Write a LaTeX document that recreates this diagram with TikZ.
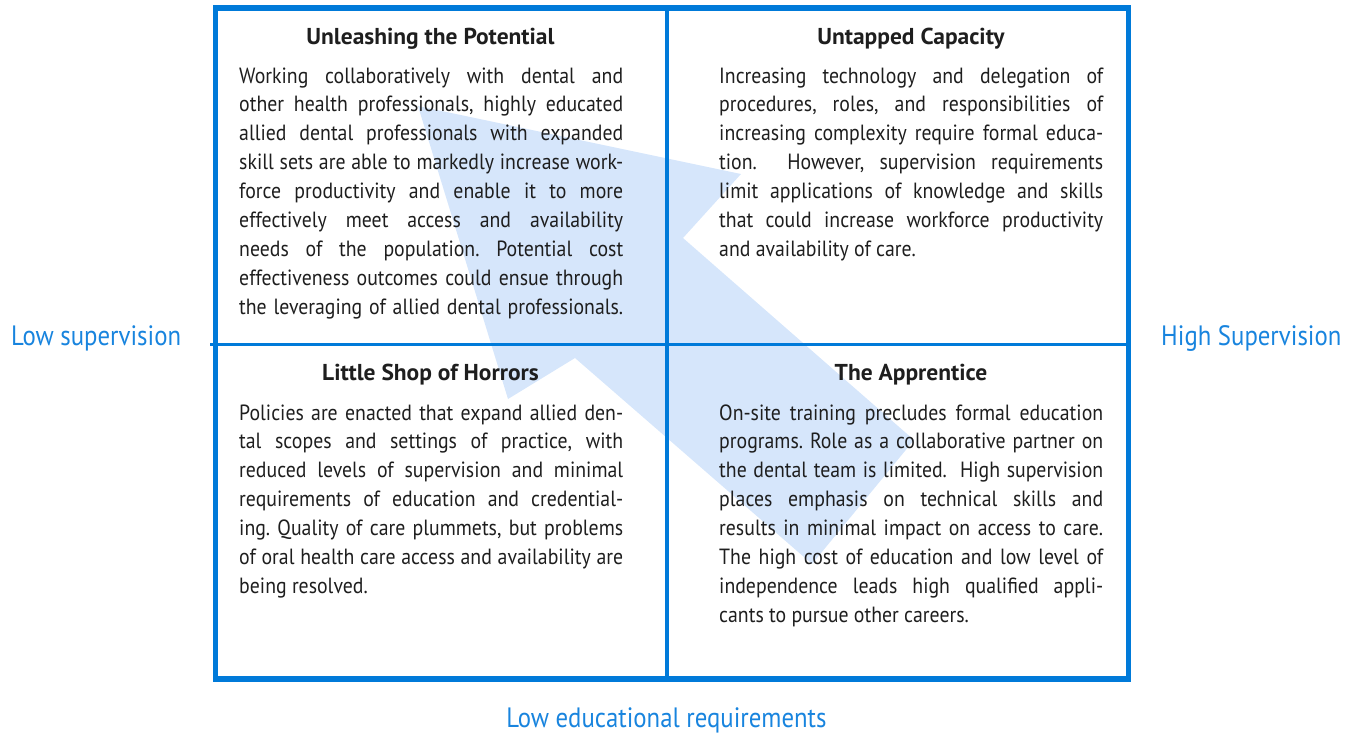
\documentclass[tikz,border=0pt]{standalone}
\usepackage{fontspec}
\setmainfont[FakeStretch=0.9]{PT Sans}
\newfontfamily\titlefont[FakeStretch=1.02]{PT Sans}
\newfontfamily\axisfont[FakeStretch=0.885]{PT Sans}

\definecolor{gridblue}{RGB}{0,122,217}
\definecolor{arrowfill}{RGB}{214,230,251}
\definecolor{labelblue}{RGB}{24,132,222}
\definecolor{bodytext}{RGB}{30,30,30}

\newlength\colw
\setlength\colw{384pt}
% one justified line of a quadrant text (spaces free to stretch), and a closing line
\newcommand{\jl}[1]{\noindent
  \makebox[\colw][s]{\spaceskip=0pt\xspaceskip=0pt\frenchspacing #1}\par}
\newcommand{\lastline}[1]{\noindent
  {\spaceskip=0pt\xspaceskip=0pt\frenchspacing #1}\par}
\newcommand{\bodysize}{\fontsize{22}{28.9}\selectfont}
\newcommand{\titlesize}{\titlefont\bfseries\fontsize{23}{26}\selectfont}
\newcommand{\axissize}{\axisfont\fontsize{28}{32}\selectfont}

\tikzset{
  quadtitle/.style={anchor=base, inner sep=0pt, text=bodytext, font=\titlesize},
  quadbody/.style={anchor=base west, inner sep=0pt, text width=384pt,
    text=bodytext, font=\bodysize},
  axislabel/.style={inner sep=0pt, text=labelblue, font=\axissize},
  frame/.style={draw=gridblue, line width=5.5pt},
  divider/.style={draw=gridblue, line width=3.4pt},
  bigarrow/.style={fill=arrowfill, draw=none}
}

\begin{document}
\begin{tikzpicture}[x=1pt, y=-1pt]
\useasboundingbox (0,0) rectangle (1354,734);

% the wide arrow pointing to the upper left quadrant
\fill[bigarrow] (418,106) -- (741,174) -- (683,238) -- (914,440)
  -- (812,564) -- (575,358) -- (508,399) -- cycle;

% frame and quadrant dividers
\draw[frame] (215.5,8) rectangle (1128.7,679);
\draw[divider] (667,8) -- (667,679);
\draw[divider] (210,344.3) -- (1128.7,344.3);

% quadrant titles
\node[quadtitle] (tUL) at (430.5,44) {Unleashing the Potential};
\node[quadtitle] (tUR) at (911,44) {Untapped Capacity};
\node[quadtitle] (tLL) at (430.5,380) {Little Shop of Horrors};
\node[quadtitle] (tLR) at (911,380) {The Apprentice};

% quadrant texts
\node[quadbody] (bUL) at (239,83) {%
\jl{Working collaboratively with dental and}
\jl{other health professionals, highly educated}
\jl{allied dental professionals with expanded}
\jl{skill sets are able to markedly increase work-}
\jl{force productivity and enable it to more}
\jl{effectively meet access and availability}
\jl{needs of the population. Potential cost}
\jl{effectiveness outcomes could ensue through}
\jl{the leveraging of allied dental professionals.}};

\node[quadbody] (bUR) at (719,83) {%
\jl{Increasing technology and delegation of}
\jl{procedures, roles, and responsibilities of}
\jl{increasing complexity require formal educa-}
\jl{tion.\ \ However, supervision requirements}
\jl{limit applications of knowledge and skills}
\jl{that could increase workforce productivity}
\lastline{and availability of care.}};

\node[quadbody] (bLL) at (239,420) {%
\jl{Policies are enacted that expand allied den-}
\jl{tal scopes and settings of practice, with}
\jl{reduced levels of supervision and minimal}
\jl{requirements of education and credential-}
\jl{ing. Quality of care plummets, but problems}
\jl{of oral health care access and availability are}
\lastline{being resolved.}};

\node[quadbody] (bLR) at (719,420) {%
\jl{On-site training precludes formal education}
\jl{programs. Role as a collaborative partner on}
\jl{the dental team is limited.\ \ High supervision}
\jl{places emphasis on technical skills and}
\jl{results in minimal impact on access to care.}
\jl{The high cost of education and low level of}
\jl{independence leads high qualified appli-}
\lastline{cants to pursue other careers.}};

% axis labels
\node[axislabel, anchor=base west] (lowsup) at (11,345) {Low supervision};
\node[axislabel, anchor=base west] (highsup) at (1161,345) {High Supervision};
\node[axislabel, anchor=base] (lowedu) at (666.5,727) {Low educational requirements};
\end{tikzpicture}
\end{document}
